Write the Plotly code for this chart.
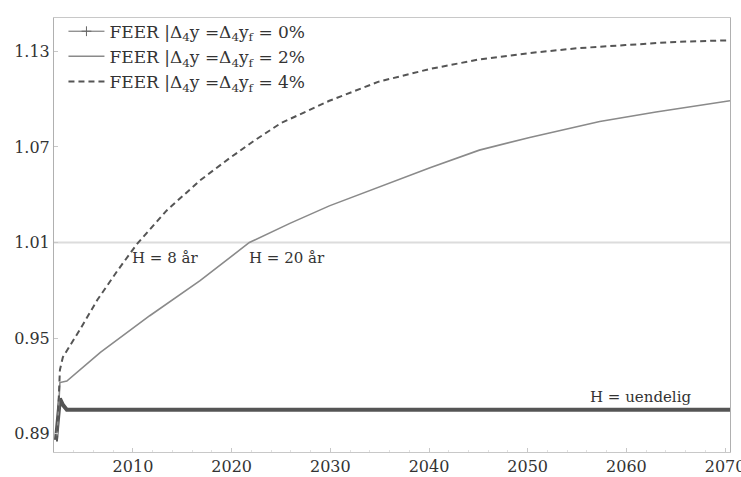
import plotly.graph_objects as go

# ---- data ----
years_0 = [2002.2, 2002.4, 2002.6, 2002.9, 2003.3, 2005, 2010, 2015, 2020, 2025, 2030,
           2035, 2040, 2045, 2050, 2055, 2060, 2065, 2070.5]
feer_0 = [0.886, 0.900, 0.912, 0.908, 0.905, 0.905, 0.905, 0.905, 0.905, 0.905, 0.905,
          0.905, 0.905, 0.905, 0.905, 0.905, 0.905, 0.905, 0.905]

years_2 = [2002.3, 2002.6, 2003.3, 2006.7, 2011.7, 2016.8, 2021.8, 2025.9, 2029.9, 2034.9,
           2040.1, 2045.1, 2050.2, 2057.3, 2063.0, 2070.5]
feer_2 = [0.887, 0.922, 0.923, 0.941, 0.964, 0.986, 1.010, 1.022, 1.033, 1.045,
          1.057, 1.068, 1.076, 1.086, 1.092, 1.099]

years_4 = [2002.3, 2002.6, 2002.9, 2004.6, 2006.4, 2008.4, 2010.4, 2013.4, 2016.8,
           2019.8, 2022.3, 2025.0, 2029.9, 2034.9, 2040.1, 2045.1, 2050.2, 2055.0,
           2059.9, 2065.0, 2070.5]
feer_4 = [0.885, 0.930, 0.938, 0.955, 0.974, 0.992, 1.009, 1.030, 1.049,
          1.063, 1.074, 1.085, 1.099, 1.111, 1.119, 1.125, 1.129, 1.132,
          1.134, 1.136, 1.137]

ref_level = 1.01
y_ticks = [0.89, 0.95, 1.01, 1.07, 1.13]
x_ticks = [2010, 2020, 2030, 2040, 2050, 2060, 2070]

labels = [
    "FEER |Δ<sub>4</sub>y =Δ<sub>4</sub>y<sub>f</sub> = 0%",
    "FEER |Δ<sub>4</sub>y =Δ<sub>4</sub>y<sub>f</sub> = 2%",
    "FEER |Δ<sub>4</sub>y =Δ<sub>4</sub>y<sub>f</sub> = 4%",
]
notes = [("H = 8 år", 2013.2, 1.000), ("H = 20 år", 2025.6, 1.000),
         ("H = uendelig", 2061.4, 0.913)]

SERIF = "DejaVu Serif"
TXT = "#333333"

fig = go.Figure()

# reference horizontal line
fig.add_trace(go.Scatter(x=[2002.0, 2070.5], y=[ref_level, ref_level], mode="lines",
                         line=dict(color="#dcdcdc", width=2), showlegend=False,
                         hoverinfo="skip"))

# 0% series: drawn as a thick line; legend entry shows line with crosses
fig.add_trace(go.Scatter(x=years_0, y=feer_0, mode="lines", name=labels[0],
                         line=dict(color="#555555", width=4), showlegend=False,
                         legendgroup="g0"))
fig.add_trace(go.Scatter(x=[None], y=[None], mode="lines+markers", name=labels[0],
                         line=dict(color="#666666", width=1),
                         marker=dict(symbol="cross-thin", size=7,
                                     line=dict(color="#666666", width=1)),
                         legendgroup="g0"))
fig.add_trace(go.Scatter(x=years_2, y=feer_2, mode="lines", name=labels[1],
                         line=dict(color="#8a8a8a", width=1.6)))
fig.add_trace(go.Scatter(x=years_4, y=feer_4, mode="lines", name=labels[2],
                         line=dict(color="#555555", width=2, dash="6px,4px")))

for text, xv, yv in notes:
    fig.add_annotation(x=xv, y=yv, text=text, showarrow=False,
                       font=dict(family=SERIF, size=15, color=TXT))

fig.update_layout(
    width=741, height=477,
    margin=dict(l=54, r=11, t=18, b=25, autoexpand=False),
    paper_bgcolor="white", plot_bgcolor="white",
    font=dict(family=SERIF, size=16, color=TXT),
    legend=dict(x=0.014, y=1.01, xanchor="left", yanchor="top",
                bgcolor="rgba(0,0,0,0)", font=dict(family=SERIF, size=17, color=TXT),
                tracegroupgap=0, itemwidth=36),
    showlegend=True,
)
fig.update_xaxes(range=[2002.0, 2070.5], tickvals=x_ticks, showgrid=False, zeroline=False,
                 showline=True, linecolor="#c8c8c8", linewidth=1, mirror=True,
                 ticks="inside", ticklen=4, tickcolor="#c8c8c8",
                 ticklabeloverflow="allow", automargin=False,
                 minor=dict(ticks="inside", ticklen=2, dtick=2, tickcolor="#e0e0e0"),
                 tickfont=dict(family=SERIF, size=16, color=TXT))
fig.update_yaxes(range=[0.8784, 1.151], tickvals=y_ticks, tickformat=".2f",
                 showgrid=False, zeroline=False, automargin=False,
                 showline=True, linecolor="#b0b0b0", linewidth=1, mirror=True,
                 ticks="inside", ticklen=4, tickcolor="#c8c8c8",
                 tickfont=dict(family=SERIF, size=16, color=TXT))

fig.write_html("out.html", config={"displayModeBar": False},
               post_script="document.body.style.margin='0';document.body.style.overflow='hidden';")
